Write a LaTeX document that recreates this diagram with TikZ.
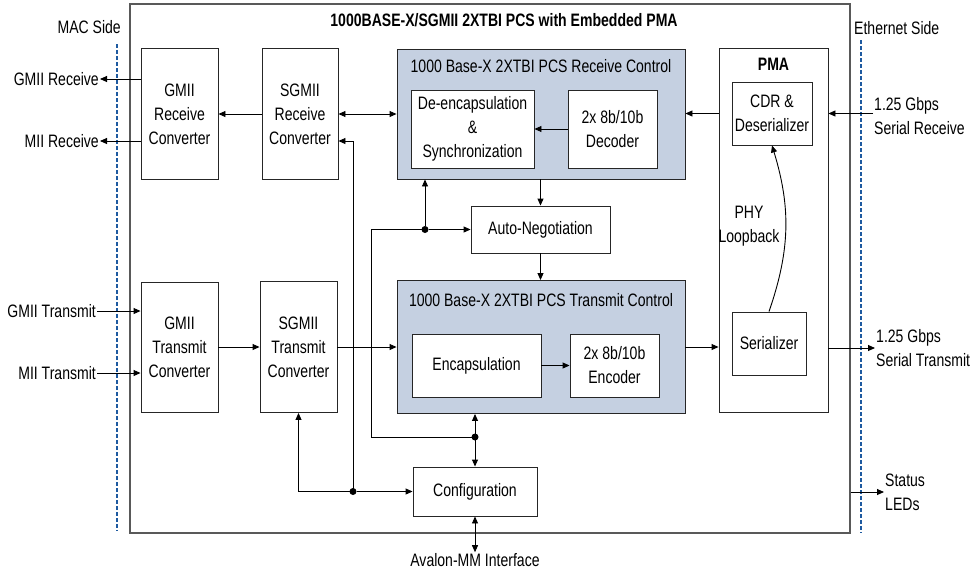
\documentclass[tikz,border=0pt]{standalone}
\usepackage{fontspec}
\setmainfont{Liberation Sans}[FakeStretch=0.78]
\usepackage{tikz}
\usetikzlibrary{positioning}
\usetikzlibrary{arrows.meta}
\definecolor{pcsblue}{RGB}{197,208,225}
\definecolor{sideblue}{RGB}{30,90,160}
\tikzstyle{block}=[draw=black!85, line width=0.9pt, fill=white, inner sep=0pt, align=center]
\tikzstyle{ctrl}=[block, fill=pcsblue]
\tikzstyle{outer}=[draw=black!65, line width=1.2pt, inner sep=0pt]
\tikzstyle{txt}=[inner sep=1pt, align=center]
\tikzstyle{heading}=[txt, font=\fontsize{18}{24}\selectfont\bfseries]
\tikzstyle{link}=[-{Triangle[length=7pt,width=6pt]}, line width=0.9pt]
\tikzstyle{twoway}=[{Triangle[length=7pt,width=6pt]}-{Triangle[length=7pt,width=6pt]}, line width=0.9pt]
\tikzstyle{wire}=[line width=0.9pt]
\tikzstyle{dot}=[circle, fill=black, inner sep=0pt, minimum size=7pt]
\tikzstyle{side}=[draw=sideblue, line width=1.8pt, dash pattern=on 4pt off 2pt]

\begin{document}
\begin{tikzpicture}[x=1pt, y=-1pt, font=\fontsize{18}{24}\selectfont]
    \useasboundingbox (0,0) rectangle (974,573);

    \node[outer, minimum width=720pt, minimum height=529pt] (pcs) at (490,268.5) {};
    \node[heading] (title) at (504,20) {1000BASE-X/SGMII 2XTBI PCS with Embedded PMA};
    \node[txt, anchor=east] (macside) at (122,27) {MAC Side};
    \node[txt, anchor=west] (ethside) at (853,28) {Ethernet Side};
    \draw[side] (117,44) -- (117,531);
    \draw[side] (861,40) -- (861,533);

    % receive path
    \node[block, minimum width=77pt, minimum height=131pt] (grx) at (179.5,114) {GMII\\Receive\\Converter};
    \node[block, minimum width=76pt, minimum height=131pt] (srx) at (300,114) {SGMII\\Receive\\Converter};
    \node[ctrl, minimum width=288pt, minimum height=130pt] (rxc) at (541,114) {};
    \node[txt] (rxlbl) at ([yshift=-18pt]rxc.north) {1000 Base-X 2XTBI PCS Receive Control};
    \node[block, minimum width=123pt, minimum height=78pt] (deenc) at (472.5,129) {De-encapsulation\\\&\\Synchronization};
    \node[block, minimum width=89pt, minimum height=78pt] (dec) at (612.5,129) {2x 8b/10b\\Decoder};

    % PMA
    \node[block, minimum width=109pt, minimum height=364pt] (pma) at (773.5,230) {};
    \node[heading] (pmalbl) at ([yshift=-17pt]pma.north) {PMA};
    \node[block, minimum width=80pt, minimum height=63pt] (cdr) at (772,113.5) {CDR \&\\Deserializer};
    \node[block, minimum width=74pt, minimum height=63pt] (ser) at (769,343.5) {Serializer};
    \node[txt] (loop) at (749,226) {PHY\\Loopback};

    \node[block, minimum width=139pt, minimum height=47pt] (an) at (540.5,229.5) {Auto-Negotiation};

    % transmit path
    \node[block, minimum width=77pt, minimum height=130pt] (gtx) at (179.5,347) {GMII\\Transmit\\Converter};
    \node[block, minimum width=77pt, minimum height=131pt] (stx) at (298.5,347) {SGMII\\Transmit\\Converter};
    \node[ctrl, minimum width=288pt, minimum height=133pt] (txc) at (541,347) {};
    \node[txt] (txlbl) at ([yshift=-20pt]txc.north) {1000 Base-X 2XTBI PCS Transmit Control};
    \node[block, minimum width=129pt, minimum height=63pt] (enc) at (476.5,365.5) {Encapsulation};
    \node[block, minimum width=89pt, minimum height=63pt] (encd) at (614.5,365.5) {2x 8b/10b\\Encoder};

    \node[block, minimum width=124pt, minimum height=49pt] (cfg) at (475,491.5) {Configuration};

    \node[dot] (j1) at (425,229.5) {};
    \node[dot] (j2) at (475,437) {};
    \node[dot] (j3) at (353,491.5) {};

    % outside labels
    \node[txt, anchor=east] (gmiirx) at (100,79) {GMII Receive};
    \node[txt, anchor=east] (miirx) at (100,141) {MII Receive};
    \node[txt, anchor=east] (gmiitx) at (97,311) {GMII Transmit};
    \node[txt, anchor=east] (miitx) at (97,373) {MII Transmit};
    \node[txt, anchor=west, align=left] (serrx) at (873,116) {1.25 Gbps\\Serial Receive};
    \node[txt, anchor=west, align=left] (sertx) at (875,348) {1.25 Gbps\\Serial Transmit};
    \node[txt, anchor=west, align=left] (leds) at (884,492) {Status\\LEDs};
    \node[txt] (avalon) at (475,560) {Avalon-MM Interface};

    \draw[link] (grx.west |- gmiirx) -- (gmiirx.east);
    \draw[link] (grx.west |- miirx) -- (miirx.east);
    \draw[link] (srx) -- (grx);
    \draw[twoway] (srx) -- (rxc);
    \draw[link] (dec) -- (deenc);
    \draw[link] (pma.west |- cdr) -- (rxc.east |- cdr);
    \draw[link] (serrx.west |- cdr) -- (pma.east |- cdr);
    \draw[link] (ser.north) to[bend right=18] (cdr.south);

    \draw[link] (rxc.south -| an) -- (an.north);
    \draw[link] (an.south) -- (txc.north -| an);
    \draw[link] (j1) -- (j1 |- rxc.south);
    \draw[link] (j1) -- (an);
    \draw[wire] (j1.center) -| (371,437) -- (j2.center);
    \draw[twoway] (j2 |- txc.south) -- (cfg.north -| j2);
    \draw[twoway] (cfg.south) -- (avalon.north);

    \draw[link] (j3.center) |- ([yshift=-27pt]srx.east);
    \draw[link] (j3) -- (cfg);
    \draw[link] (j3.center) -| (stx.south);

    \draw[link] (gmiitx.east) -- (gtx.west |- gmiitx);
    \draw[link] (miitx.east) -- (gtx.west |- miitx);
    \draw[link] (gtx) -- (stx);
    \draw[link] (stx) -- (txc);
    \draw[link] (enc) -- (encd);
    \draw[link] (txc.east) -- (pma.west |- txc.east);
    \draw[link] (pma.east |- sertx) -- (sertx.west);
    \draw[link] (pcs.east |- leds) -- (leds.west);
\end{tikzpicture}
\end{document}
